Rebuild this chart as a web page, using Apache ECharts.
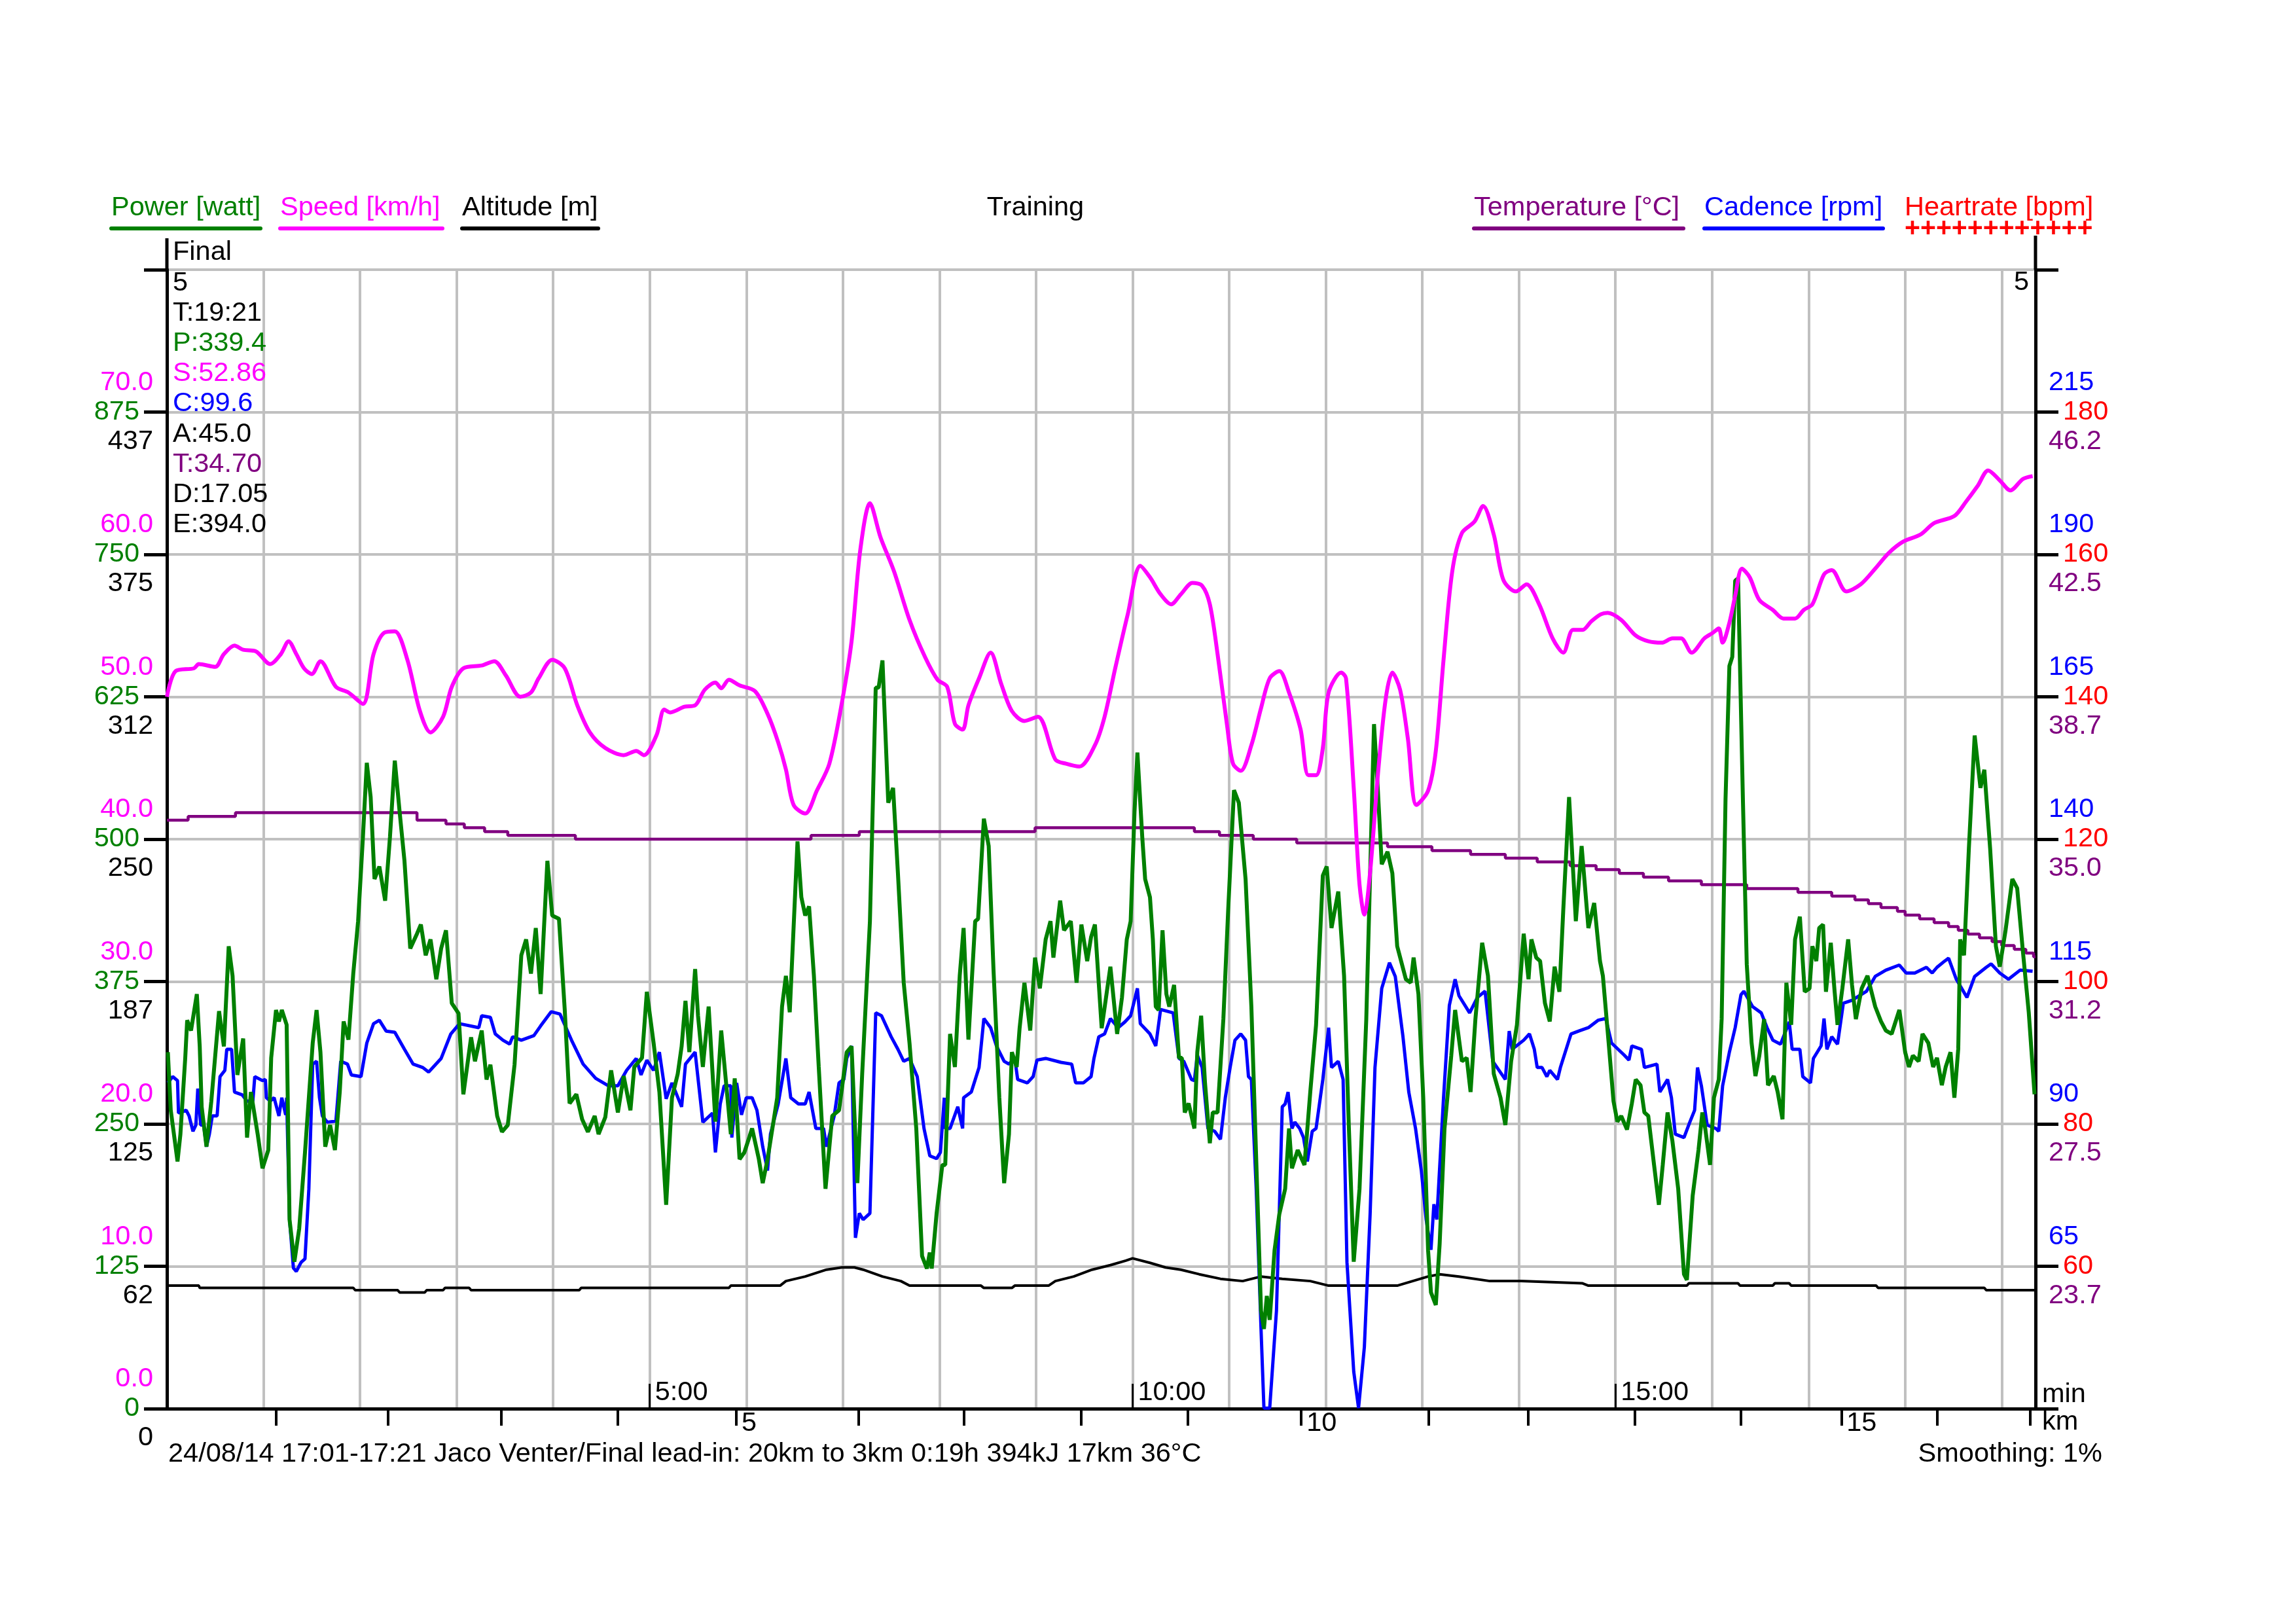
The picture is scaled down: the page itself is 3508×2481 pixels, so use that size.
<!DOCTYPE html>
<html><head><meta charset="utf-8">
<script src="https://cdn.jsdelivr.net/npm/echarts@6/dist/echarts.min.js"></script>
<style>html,body{margin:0;padding:0;background:#fff}#c{width:3508px;height:2481px}</style>
</head><body><div id="c"></div>
<script>
// ---- data (time in minutes, value) ----
const powerData = [[0.01,313],[0.04,262],[0.11,217],[0.14,241],[0.19,308],[0.21,341],[0.25,332],[0.31,364],[0.34,318],[0.36,265],[0.41,230],[0.46,270],[0.54,349],[0.59,318],[0.64,406],[0.68,380],[0.73,293],[0.79,325],[0.83,238],[0.87,278],[0.94,241],[0.99,211],[1.05,227],[1.08,308],[1.13,350],[1.16,340],[1.19,350],[1.24,337],[1.27,166],[1.32,129],[1.37,158],[1.43,225],[1.51,321],[1.55,350],[1.59,313],[1.64,230],[1.69,249],[1.74,227],[1.79,278],[1.83,340],[1.88,324],[1.93,382],[1.98,428],[2.03,502],[2.07,567],[2.11,537],[2.15,465],[2.20,476],[2.26,446],[2.31,502],[2.36,569],[2.41,524],[2.46,481],[2.52,404],[2.59,417],[2.63,425],[2.68,398],[2.73,412],[2.79,377],[2.84,404],[2.89,420],[2.95,356],[3.02,347],[3.07,276],[3.15,326],[3.19,305],[3.26,332],[3.31,289],[3.35,302],[3.42,257],[3.47,243],[3.53,249],[3.60,302],[3.67,398],[3.72,412],[3.77,382],[3.82,422],[3.87,364],[3.94,481],[3.99,433],[4.06,430],[4.12,350],[4.17,268],[4.24,276],[4.30,254],[4.36,243],[4.43,257],[4.47,241],[4.54,256],[4.60,297],[4.67,260],[4.73,292],[4.80,262],[4.84,300],[4.92,308],[4.97,366],[5.04,321],[5.10,278],[5.17,179],[5.23,273],[5.29,294],[5.33,318],[5.37,358],[5.41,313],[5.47,386],[5.50,345],[5.55,300],[5.61,353],[5.68,252],[5.74,332],[5.84,241],[5.88,290],[5.93,219],[5.98,225],[6.06,246],[6.13,219],[6.17,198],[6.22,219],[6.32,273],[6.37,353],[6.41,380],[6.45,348],[6.53,498],[6.57,449],[6.61,433],[6.65,441],[6.70,380],[6.75,300],[6.82,193],[6.89,257],[6.96,262],[7.04,313],[7.09,318],[7.15,198],[7.20,294],[7.28,428],[7.34,633],[7.37,633],[7.41,657],[7.47,532],[7.52,545],[7.57,470],[7.63,374],[7.69,321],[7.76,246],[7.82,134],[7.87,123],[7.90,137],[7.92,123],[7.97,171],[8.03,214],[8.06,214],[8.11,329],[8.16,300],[8.21,380],[8.25,422],[8.30,324],[8.37,428],[8.40,430],[8.46,518],[8.51,494],[8.56,385],[8.62,273],[8.67,198],[8.72,241],[8.75,313],[8.80,300],[8.83,334],[8.88,374],[8.94,332],[8.99,396],[9.04,369],[9.10,412],[9.15,428],[9.18,396],[9.25,446],[9.29,420],[9.36,428],[9.42,374],[9.47,425],[9.53,393],[9.57,414],[9.61,425],[9.68,334],[9.73,364],[9.77,388],[9.84,329],[9.89,361],[9.94,412],[9.98,428],[10.02,524],[10.05,576],[10.10,502],[10.13,465],[10.18,449],[10.21,412],[10.24,353],[10.27,350],[10.31,420],[10.35,364],[10.38,353],[10.43,372],[10.48,308],[10.51,308],[10.54,260],[10.58,268],[10.64,246],[10.67,313],[10.71,345],[10.75,286],[10.80,233],[10.83,260],[10.88,260],[10.94,342],[10.99,438],[11.05,543],[11.10,532],[11.17,465],[11.23,353],[11.29,193],[11.33,86],[11.36,70],[11.39,99],[11.42,78],[11.47,139],[11.52,171],[11.58,193],[11.62,246],[11.65,211],[11.71,227],[11.78,214],[11.84,278],[11.90,337],[11.97,468],[12.01,476],[12.06,422],[12.13,454],[12.19,380],[12.24,246],[12.29,129],[12.35,193],[12.42,342],[12.45,438],[12.50,601],[12.54,543],[12.58,478],[12.64,489],[12.69,470],[12.74,406],[12.83,377],[12.88,374],[12.91,396],[12.96,364],[13.01,273],[13.06,139],[13.09,102],[13.14,91],[13.18,145],[13.23,246],[13.30,310],[13.34,350],[13.41,305],[13.46,308],[13.50,278],[13.55,342],[13.62,409],[13.68,380],[13.74,294],[13.81,273],[13.86,249],[13.92,305],[13.98,337],[14.05,417],[14.10,377],[14.13,412],[14.18,396],[14.22,393],[14.27,356],[14.32,340],[14.37,388],[14.42,366],[14.46,438],[14.52,537],[14.59,428],[14.65,494],[14.72,422],[14.78,444],[14.84,393],[14.87,380],[14.93,321],[14.98,270],[15.02,252],[15.06,257],[15.12,245],[15.17,268],[15.21,289],[15.26,284],[15.30,260],[15.34,257],[15.40,214],[15.45,179],[15.49,214],[15.54,260],[15.59,235],[15.65,193],[15.71,118],[15.74,113],[15.80,187],[15.86,227],[15.90,260],[15.93,246],[15.98,214],[16.02,273],[16.07,289],[16.10,342],[16.14,535],[16.18,652],[16.21,660],[16.24,727],[16.27,729],[16.32,535],[16.36,390],[16.41,321],[16.45,292],[16.49,310],[16.54,342],[16.58,284],[16.64,292],[16.68,278],[16.73,254],[16.77,374],[16.82,337],[16.86,412],[16.91,432],[16.96,366],[17.01,369],[17.04,406],[17.08,393],[17.11,422],[17.15,425],[17.18,366],[17.23,409],[17.27,366],[17.30,337],[17.35,369],[17.41,412],[17.45,372],[17.49,342],[17.55,369],[17.61,380],[17.69,353],[17.75,340],[17.80,332],[17.86,329],[17.94,350],[18.00,313],[18.04,300],[18.08,310],[18.14,305],[18.18,329],[18.24,321],[18.29,300],[18.33,308],[18.38,284],[18.42,300],[18.47,313],[18.51,273],[18.55,316],[18.57,412],[18.61,398],[18.66,492],[18.72,591],[18.78,545],[18.82,561],[18.88,492],[18.94,406],[18.98,388],[19.04,420],[19.11,465],[19.16,457],[19.22,401],[19.28,348],[19.34,276]];

const speedData = [[0,50.0],[0.09,51.8],[0.28,52.0],[0.33,52.3],[0.5,52.1],[0.59,53.0],[0.70,53.6],[0.79,53.3],[0.92,53.2],[1.07,52.3],[1.18,53.0],[1.26,53.9],[1.34,53.0],[1.42,52.0],[1.50,51.6],[1.59,52.5],[1.75,50.7],[1.88,50.3],[2.03,49.5],[2.14,53.0],[2.25,54.5],[2.36,54.6],[2.49,52.6],[2.62,49.0],[2.73,47.5],[2.86,48.6],[2.95,50.7],[3.07,52.0],[3.26,52.2],[3.39,52.5],[3.51,51.5],[3.66,50.0],[3.77,50.3],[3.85,51.3],[3.99,52.6],[4.12,52.0],[4.25,49.4],[4.38,47.5],[4.54,46.4],[4.73,45.9],[4.86,46.2],[4.94,45.9],[5.07,47.3],[5.15,49.1],[5.21,48.9],[5.36,49.3],[5.47,49.4],[5.57,50.5],[5.68,51.0],[5.74,50.6],[5.82,51.2],[5.93,50.8],[6.09,50.4],[6.22,48.8],[6.33,46.8],[6.41,44.9],[6.49,42.4],[6.61,41.8],[6.73,43.4],[6.86,45.3],[6.99,49.6],[7.09,53.9],[7.18,60.3],[7.28,63.6],[7.39,61.2],[7.53,58.8],[7.69,55.4],[7.85,52.8],[7.98,51.2],[8.08,50.7],[8.16,48.1],[8.24,47.7],[8.30,49.4],[8.41,51.3],[8.53,53.1],[8.64,50.9],[8.75,49.0],[8.88,48.3],[9.02,48.6],[9.20,45.6],[9.31,45.3],[9.45,45.1],[9.61,46.6],[9.71,48.6],[9.82,52.0],[9.95,55.8],[10.08,59.2],[10.18,58.4],[10.29,57.2],[10.40,56.5],[10.50,57.2],[10.62,58.0],[10.72,57.8],[10.80,56.5],[10.88,53.0],[10.98,47.9],[11.04,45.3],[11.12,44.8],[11.23,46.6],[11.33,49.2],[11.42,51.3],[11.52,51.8],[11.62,50.3],[11.74,47.7],[11.82,44.5],[11.90,44.5],[11.97,46.4],[12.03,50.3],[12.16,51.7],[12.21,51.3],[12.29,43.6],[12.35,36.8],[12.40,34.7],[12.46,37.7],[12.54,44.5],[12.62,49.8],[12.69,51.7],[12.77,50.5],[12.85,47.1],[12.94,42.4],[13.06,43.4],[13.14,46.2],[13.22,52.6],[13.31,58.8],[13.41,61.5],[13.54,62.3],[13.63,63.4],[13.74,61.4],[13.84,58.2],[13.97,57.4],[14.08,57.9],[14.21,56.5],[14.35,54.1],[14.46,53.1],[14.56,54.7],[14.66,54.7],[14.75,55.3],[14.85,55.8],[14.92,55.9],[15.06,55.4],[15.21,54.3],[15.34,53.9],[15.48,53.8],[15.59,54.1],[15.68,54.1],[15.79,53.1],[15.92,54.1],[16.01,54.5],[16.07,54.8],[16.11,53.8],[16.18,55.2],[16.24,57.1],[16.31,59.0],[16.39,58.4],[16.49,56.8],[16.63,56.1],[16.74,55.5],[16.86,55.5],[16.95,56.1],[17.04,56.5],[17.16,58.6],[17.24,58.9],[17.39,57.4],[17.54,57.9],[17.69,59.0],[17.83,60.1],[17.98,60.9],[18.16,61.4],[18.30,62.2],[18.51,62.7],[18.63,63.7],[18.75,64.8],[18.86,65.9],[18.98,65.2],[19.09,64.5],[19.22,65.3],[19.32,65.5]];

const cadenceData = [[0.01,97.2],[0.06,98.3],[0.11,97.6],[0.12,91.9],[0.20,92.4],[0.23,91.4],[0.27,88.7],[0.30,89.8],[0.32,96.2],[0.35,89.8],[0.38,89.8],[0.41,86.0],[0.44,88.2],[0.47,91.4],[0.52,91.4],[0.55,98.3],[0.60,99.4],[0.62,103.1],[0.67,103.1],[0.70,95.6],[0.78,95.1],[0.83,94.0],[0.89,94.0],[0.91,98.3],[0.99,97.6],[1.02,97.8],[1.03,94.6],[1.07,94.0],[1.11,94.6],[1.16,91.4],[1.19,94.6],[1.23,91.6],[1.24,94.6],[1.27,73.2],[1.31,64.7],[1.34,64.1],[1.39,65.7],[1.43,66.3],[1.47,78.6],[1.51,100.5],[1.55,101.0],[1.58,94.6],[1.61,91.4],[1.66,90.3],[1.75,90.5],[1.80,101.0],[1.87,100.5],[1.91,98.6],[2.01,98.3],[2.07,104.2],[2.14,107.6],[2.20,108.2],[2.27,106.3],[2.36,106.1],[2.46,103.1],[2.55,100.5],[2.65,99.9],[2.71,99.1],[2.84,101.5],[2.94,105.8],[3.03,107.6],[3.23,106.9],[3.26,109.0],[3.35,108.7],[3.40,105.8],[3.48,104.7],[3.55,104.0],[3.58,105.3],[3.67,104.7],[3.80,105.5],[3.87,107.2],[3.98,109.7],[4.07,109.3],[4.19,104.7],[4.31,100.5],[4.44,98.0],[4.57,96.7],[4.67,96.7],[4.76,99.4],[4.86,101.5],[4.91,98.6],[4.97,101.2],[5.04,99.4],[5.10,102.6],[5.17,94.4],[5.23,97.2],[5.33,93.0],[5.37,100.5],[5.47,102.6],[5.55,90.3],[5.65,91.9],[5.68,85.0],[5.73,93.5],[5.77,96.7],[5.84,96.7],[5.85,87.6],[5.90,97.2],[5.95,91.6],[6.00,94.6],[6.06,94.6],[6.11,92.4],[6.17,86.0],[6.22,81.8],[6.25,88.2],[6.33,93.5],[6.41,101.5],[6.46,94.6],[6.54,93.5],[6.61,93.5],[6.65,95.6],[6.72,89.2],[6.80,89.2],[6.83,86.0],[6.91,91.4],[6.96,97.2],[7.01,97.8],[7.04,101.5],[7.09,103.7],[7.13,70.0],[7.17,74.3],[7.21,73.2],[7.28,74.3],[7.34,109.5],[7.40,109.0],[7.50,105.3],[7.57,103.1],[7.63,101.0],[7.69,101.5],[7.77,98.3],[7.84,89.2],[7.90,84.4],[7.97,83.9],[8.01,85.0],[8.05,94.6],[8.06,89.2],[8.11,89.2],[8.19,93.0],[8.24,89.2],[8.25,94.6],[8.33,95.6],[8.41,99.9],[8.46,108.5],[8.53,106.9],[8.59,103.7],[8.67,101.0],[8.72,100.5],[8.78,101.5],[8.81,97.8],[8.91,97.2],[8.97,98.3],[9.01,101.2],[9.10,101.5],[9.26,100.8],[9.37,100.5],[9.41,97.2],[9.49,97.2],[9.57,98.3],[9.60,101.5],[9.65,105.3],[9.71,105.8],[9.77,108.5],[9.85,106.9],[9.92,107.9],[9.98,109.0],[10.05,113.8],[10.08,107.6],[10.18,105.8],[10.24,103.7],[10.29,110.1],[10.42,109.5],[10.48,101.5],[10.53,101.0],[10.61,97.8],[10.64,97.6],[10.67,102.1],[10.72,99.9],[10.78,89.2],[10.85,88.7],[10.91,87.3],[10.96,94.6],[11.01,99.9],[11.06,104.7],[11.12,105.8],[11.17,104.7],[11.20,98.3],[11.23,97.8],[11.28,78.6],[11.33,54.0],[11.36,40.1],[11.42,40.1],[11.49,57.2],[11.55,93.0],[11.58,93.5],[11.61,95.6],[11.65,89.2],[11.68,90.3],[11.73,89.2],[11.77,87.6],[11.81,83.4],[11.86,88.7],[11.90,89.2],[11.97,97.8],[12.03,106.9],[12.06,99.9],[12.13,101.0],[12.18,97.8],[12.22,65.7],[12.29,46.5],[12.34,40.1],[12.40,50.8],[12.46,74.3],[12.51,99.9],[12.58,113.8],[12.66,118.3],[12.72,115.9],[12.80,105.3],[12.86,95.6],[12.93,89.2],[12.99,81.8],[13.04,73.2],[13.09,67.9],[13.12,75.9],[13.15,73.2],[13.22,94.6],[13.28,110.8],[13.34,115.4],[13.38,112.5],[13.49,109.5],[13.57,112.2],[13.65,113.3],[13.73,101.0],[13.86,97.8],[13.90,106.3],[13.93,103.1],[14.05,104.7],[14.11,105.8],[14.16,103.1],[14.19,99.9],[14.24,99.9],[14.29,98.3],[14.32,99.4],[14.40,97.8],[14.43,99.9],[14.54,105.8],[14.62,106.3],[14.72,106.9],[14.82,108.2],[14.90,108.5],[14.96,104.2],[15.09,102.1],[15.14,101.2],[15.17,103.7],[15.27,103.1],[15.30,99.9],[15.43,100.5],[15.46,95.6],[15.54,97.8],[15.58,94.6],[15.62,88.2],[15.71,87.6],[15.77,90.3],[15.82,92.4],[15.85,99.9],[15.89,96.7],[15.95,89.8],[16.04,89.2],[16.07,88.7],[16.11,96.7],[16.18,102.6],[16.24,106.9],[16.30,112.7],[16.33,113.3],[16.42,110.6],[16.51,109.5],[16.57,106.9],[16.63,104.7],[16.71,104.0],[16.80,107.9],[16.83,103.1],[16.91,103.1],[16.94,98.3],[17.02,97.2],[17.05,101.5],[17.13,103.7],[17.16,108.5],[17.19,103.1],[17.24,105.3],[17.30,104.0],[17.36,111.2],[17.45,111.7],[17.60,113.3],[17.69,115.9],[17.80,117.0],[17.94,117.9],[18.01,116.5],[18.10,116.5],[18.22,117.5],[18.28,116.5],[18.33,117.5],[18.41,118.6],[18.45,119.1],[18.53,115.4],[18.64,112.2],[18.72,115.9],[18.84,117.5],[18.89,118.1],[18.98,116.5],[19.07,115.4],[19.19,117.0],[19.32,116.8]];

const altitudeData = [[0,54],[0.33,54],[0.34,53],[1.93,53],[1.95,52],[2.39,52],[2.41,51],[2.67,51],[2.69,52],[2.86,52],[2.88,53],[3.13,53],[3.15,52],[4.27,52],[4.29,53],[5.82,53],[5.84,54],[6.35,54],[6.41,56],[6.61,58],[6.83,61],[6.99,62],[7.12,62],[7.21,61],[7.41,58],[7.60,56],[7.69,54],[8.43,54],[8.46,53],[8.75,53],[8.78,54],[9.13,54],[9.20,56],[9.39,58],[9.58,61],[9.77,63],[9.93,65],[10.0,66],[10.18,64],[10.34,62],[10.50,61],[10.69,59],[10.91,57],[11.14,56],[11.33,58],[11.55,57],[11.84,56],[12.03,54],[12.74,54],[12.90,56],[13.06,58],[13.18,59],[13.38,58],[13.70,56],[14.02,56],[14.66,55],[14.72,54],[15.74,54],[15.76,55],[16.27,55],[16.29,54],[16.63,54],[16.65,55],[16.80,55],[16.82,54],[17.70,54],[17.72,53],[18.82,53],[18.84,52],[19.35,52]];

const temperatureData = [[0,35.5],[0.22,35.6],[0.71,35.7],[2.59,35.5],[2.89,35.4],[3.08,35.3],[3.29,35.2],[3.53,35.1],[4.23,35.0],[6.67,35.1],[7.17,35.2],[8.99,35.3],[10.64,35.2],[10.90,35.1],[11.25,35.0],[11.70,34.9],[12.64,34.8],[13.10,34.7],[13.50,34.6],[13.86,34.5],[14.19,34.4],[14.53,34.3],[14.80,34.2],[15.04,34.1],[15.29,34.0],[15.55,33.9],[15.89,33.8],[16.36,33.7],[16.89,33.6],[17.24,33.5],[17.48,33.4],[17.62,33.3],[17.75,33.2],[17.92,33.1],[18.00,33.0],[18.15,32.9],[18.30,32.8],[18.45,32.7],[18.55,32.6],[18.65,32.5],[18.77,32.4],[18.90,32.3],[19.00,32.2],[19.13,32.1],[19.25,32.0],[19.33,31.9],[19.35,31.9]];

// distance ticks: time (min) at which each km was reached
const kmTickTimes = [1.131,2.288,3.460,4.665,5.897,7.163,8.253,9.465,10.569,11.747,13.067,14.096,15.2,16.297,17.339,18.335,19.296];
const kmLabelled = [5,10,15];
const timeTickValues = [5,10,15];
const timeTickLabels = ['5:00','10:00','15:00'];
const totalMinutes = 19.35;

const legendLeft = [
  {name:'Power [watt]', color:'#008000'},
  {name:'Speed [km/h]', color:'#ff00ff'},
  {name:'Altitude [m]', color:'#000000'}
];
const legendRight = [
  {name:'Temperature [°C]', color:'#800080'},
  {name:'Cadence [rpm]', color:'#0000ff'},
  {name:'Heartrate [bpm]', color:'#ff0000'}
];
const infoLines = [
  {text:'Final', color:'#000000'},
  {text:'5', color:'#000000'},
  {text:'T:19:21', color:'#000000'},
  {text:'P:339.4', color:'#008000'},
  {text:'S:52.86', color:'#ff00ff'},
  {text:'C:99.6', color:'#0000ff'},
  {text:'A:45.0', color:'#000000'},
  {text:'T:34.70', color:'#800080'},
  {text:'D:17.05', color:'#000000'},
  {text:'E:394.0', color:'#000000'}
];
const titleText = 'Training';
const captionText = '24/08/14 17:01-17:21 Jaco Venter/Final lead-in: 20km to 3km 0:19h 394kJ 17km 36°C';
const smoothingText = 'Smoothing: 1%';

// ---- layout ----
const FONT = 'Liberation Sans';
const FS = 41.5;
const LH = 45;
const GL = 255, GR = 3110, GT = 412, GB = 2152;
const font = FS + 'px "' + FONT + '"';

const chart = echarts.init(document.getElementById('c'), null, {renderer:'canvas'});

const graphics = [];
const TZ = 100;
const legLeftX = [[170,398],[428,676],[706,914]];
legendLeft.forEach((l,i)=>{
  graphics.push({type:'text', z:TZ, x:legLeftX[i][0], y:318, style:{text:l.name, fill:l.color, font:font, verticalAlign:'middle', align:'left'}});
  graphics.push({type:'line', z:TZ, shape:{x1:legLeftX[i][0], y1:349, x2:legLeftX[i][1], y2:349}, style:{stroke:l.color, lineWidth:6, lineCap:'round'}});
});
const legRightX = [[2252,2572],[2604,2877],[2910,3198]];
legendRight.forEach((l,i)=>{
  graphics.push({type:'text', z:TZ, x:legRightX[i][0], y:318, style:{text:l.name, fill:l.color, font:font, verticalAlign:'middle', align:'left'}});
  if (i < 2) {
    graphics.push({type:'line', z:TZ, shape:{x1:legRightX[i][0], y1:349, x2:legRightX[i][1], y2:349}, style:{stroke:l.color, lineWidth:6, lineCap:'round'}});
  } else {
    graphics.push({type:'text', z:TZ, x:legRightX[i][0], y:350, style:{text:'++++++++++++', fill:l.color, font:'bold 41px "' + FONT + '"', verticalAlign:'middle', align:'left'}});
  }
});
graphics.push({type:'text', z:TZ, x:1582, y:318, style:{text:titleText, fill:'#000', font:font, verticalAlign:'middle', align:'center'}});
infoLines.forEach((l,i)=>{
  graphics.push({type:'text', z:TZ, x:264, y:386 + i*46.2, style:{text:l.text, fill:l.color, font:font, verticalAlign:'middle', align:'left'}});
});
graphics.push({type:'text', z:TZ, x:3100, y:432, style:{text:'5', fill:'#000', font:font, verticalAlign:'middle', align:'right'}});
graphics.push({type:'line', z:TZ, shape:{x1:GL, y1:364, x2:GL, y2:GT}, style:{stroke:'#000', lineWidth:5}});
graphics.push({type:'line', z:TZ, shape:{x1:GR, y1:360, x2:GR, y2:GT}, style:{stroke:'#000', lineWidth:5}});
graphics.push({type:'text', z:TZ, x:257, y:2222, style:{text:captionText, fill:'#000', font:font, verticalAlign:'middle', align:'left'}});
graphics.push({type:'text', z:TZ, x:3212, y:2222, style:{text:smoothingText, fill:'#000', font:font, verticalAlign:'middle', align:'right'}});

const baseLabel = {fontFamily:FONT, fontSize:FS, lineHeight:LH};
const noLine = {show:false};
const above = s => s === '' ? '' : s + '\n \n ';
const below = s => s === '' ? '' : ' \n \n' + s;

function tempFmt(v){ if (v < 21 || v > 49) return ''; return (Math.floor(v*10+1e-6)/10).toFixed(1); }

const option = {
  animation:false,
  backgroundColor:'#ffffff',
  textStyle:{fontFamily:FONT},
  graphic:graphics,
  grid:{left:GL, right:3508-GR, top:GT, bottom:2481-GB, containLabel:false},
  xAxis:[
    {type:'value', min:0, max:totalMinutes, interval:1, position:'bottom',
     axisLine:{show:true, lineStyle:{color:'#000', width:5}}, axisTick:{show:false}, axisLabel:{show:false},
     splitLine:{show:true, lineStyle:{color:'#c0c0c0', width:4}}},
    {type:'value', min:0, max:totalMinutes, position:'bottom',
     axisLine:{show:false},
     axisTick:{show:true, inside:true, length:38, lineStyle:{color:'#000', width:3}, customValues:timeTickValues},
     axisLabel:Object.assign({show:true, inside:true, customValues:timeTickValues, color:'#000', align:'left', verticalAlign:'bottom', margin:2, padding:[0,0,0,8],
       formatter:function(v){ const i = timeTickValues.indexOf(v); return i>=0 ? timeTickLabels[i] : ''; }}, baseLabel),
     splitLine:{show:false},
     name:'min', nameLocation:'end', nameGap:10,
     nameTextStyle:{color:'#000', fontFamily:FONT, fontSize:FS, align:'left', verticalAlign:'bottom'}},
    {type:'value', min:0, max:totalMinutes, position:'bottom',
     axisLine:{show:false},
     axisTick:{show:true, inside:false, length:26, lineStyle:{color:'#000', width:4}, customValues:kmTickTimes},
     axisLabel:Object.assign({show:true, customValues:kmLabelled.map(k=>kmTickTimes[k-1]), color:'#000', align:'left', verticalAlign:'top', margin:0, padding:[0,0,0,8],
       formatter:function(v){ const i = kmTickTimes.indexOf(v); return i>=0 ? String(i+1) : ''; }}, baseLabel),
     splitLine:{show:false},
     name:'km', nameLocation:'end', nameGap:10,
     nameTextStyle:{color:'#000', fontFamily:FONT, fontSize:FS, align:'left', verticalAlign:'top'}}
  ],
  yAxis:[
    {type:'value', min:0, max:1000, interval:125, position:'left',
     axisLine:{show:true, lineStyle:{color:'#000', width:5}},
     axisTick:{show:true, length:35, lineStyle:{color:'#000', width:5}},
     axisLabel:Object.assign({color:'#008000', margin:42, showMinLabel:true, showMaxLabel:true, formatter:v=> v>=1000 ? '' : String(v)}, baseLabel),
     splitLine:{show:true, lineStyle:{color:'#c0c0c0', width:4}}},
    {type:'value', min:0, max:80, interval:10, position:'left',
     axisLine:noLine, axisTick:{show:false},
     axisLabel:Object.assign({color:'#ff00ff', margin:21, showMinLabel:true, showMaxLabel:true, formatter:v=> above(v>=80 ? '' : v.toFixed(1))}, baseLabel),
     splitLine:{show:false}},
    {type:'value', min:0, max:500, interval:62.5, position:'left',
     axisLine:noLine, axisTick:{show:false},
     axisLabel:Object.assign({color:'#000', margin:21, showMinLabel:true, showMaxLabel:true, formatter:v=> below(v>=499 ? '' : String(Math.floor(v+1e-6)))}, baseLabel),
     splitLine:{show:false}},
    {type:'value', min:40, max:240, interval:25, position:'right',
     axisLine:noLine, axisTick:{show:false},
     axisLabel:Object.assign({color:'#0000ff', margin:20, showMinLabel:true, showMaxLabel:true, formatter:v=> above((v<=40||v>=240) ? '' : String(v))}, baseLabel),
     splitLine:{show:false}},
    {type:'value', min:40, max:200, interval:20, position:'right',
     axisLine:{show:true, lineStyle:{color:'#000', width:5}},
     axisTick:{show:true, length:35, lineStyle:{color:'#000', width:5}},
     axisLabel:Object.assign({color:'#ff0000', margin:42, showMinLabel:true, showMaxLabel:true, formatter:v=> (v<=40||v>=200) ? '' : String(v)}, baseLabel),
     splitLine:{show:false}},
    {type:'value', min:20, max:50, interval:3.75, position:'right',
     axisLine:noLine, axisTick:{show:false},
     axisLabel:Object.assign({color:'#800080', margin:20, showMinLabel:true, showMaxLabel:true, formatter:v=> below(tempFmt(v))}, baseLabel),
     splitLine:{show:false}}
  ],
  series:[
    {name:'Temperature [°C]', type:'line', xAxisIndex:0, yAxisIndex:5, data:temperatureData, step:'end', showSymbol:false, lineStyle:{color:'#800080', width:4.5}, z:2},
    {name:'Altitude [m]', type:'line', xAxisIndex:0, yAxisIndex:2, data:altitudeData, showSymbol:false, lineStyle:{color:'#000', width:4}, z:2},
    {name:'Cadence [rpm]', type:'line', xAxisIndex:0, yAxisIndex:3, data:cadenceData, showSymbol:false, lineStyle:{color:'#0000ff', width:5}, z:3},
    {name:'Power [watt]', type:'line', xAxisIndex:0, yAxisIndex:0, data:powerData, showSymbol:false, lineStyle:{color:'#008000', width:6}, z:4},
    {name:'Speed [km/h]', type:'line', xAxisIndex:0, yAxisIndex:1, data:speedData, smooth:0.3, showSymbol:false, lineStyle:{color:'#ff00ff', width:6}, z:5}
  ]
};
chart.setOption(option);
</script>
</body></html>
